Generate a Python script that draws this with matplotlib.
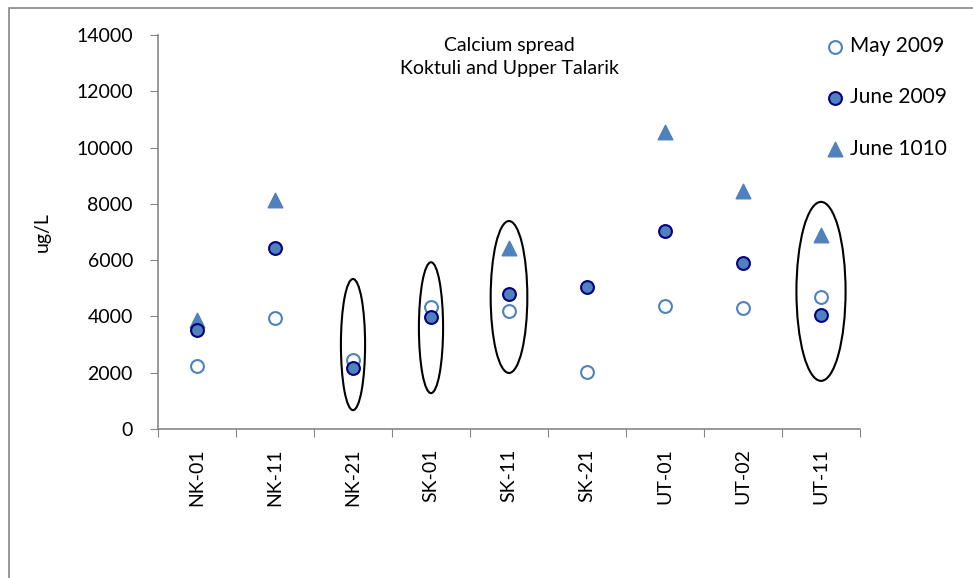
import matplotlib.pyplot as plt
from matplotlib.patches import Ellipse, Rectangle

plt.rcParams['font.family'] = ['Lato', 'DejaVu Sans']

sites = ['NK-01', 'NK-11', 'NK-21', 'SK-01', 'SK-11', 'SK-21', 'UT-01', 'UT-02', 'UT-11']
may_2009 = [2240, 3940, 2450, 4340, 4190, 2030, 4370, 4300, 4690]
june_2009 = [3520, 6430, 2170, 3980, 4800, 5040, 7040, 5900, 4050]
# no June 1010 sample at NK-21, SK-01, SK-21
june_1010 = [3870, 8140, None, None, 6430, None, 10550, 8460, 6890]

# circled sites: (site index, centre, height in ug/L, width in categories)
circled = [(2, 3000, 4660, 0.31), (3, 3600, 4650, 0.31),
           (4, 4690, 5400, 0.47), (8, 4890, 6360, 0.63)]

fig = plt.figure(figsize=(9.73, 5.78), dpi=100)
ax = fig.add_axes([158 / 973, 1 - 429 / 578, (860 - 158) / 973, (429 - 35) / 578])

blue = '#4F81BD'
x = list(range(len(sites)))

ax.scatter(x, may_2009, s=85, facecolors='white', edgecolors=blue, linewidths=1.5,
           label='May 2009', zorder=3)
ax.scatter(x, june_2009, s=85, facecolors=blue, edgecolors='#000080', linewidths=1.5,
           label='June 2009', zorder=4)
tx = [i for i, v in zip(x, june_1010) if v is not None]
ty = [v for v in june_1010 if v is not None]
ax.scatter(tx, ty, s=110, marker='^', color=blue, label='June 1010', zorder=3)

for i, c, h, w in circled:
    ax.add_patch(Ellipse((i, c), w, h, fill=False, edgecolor='black', linewidth=1.5, zorder=5))

ax.set_xlim(-0.5, len(sites) - 0.5)
ax.set_ylim(0, 14000)
ax.set_yticks(range(0, 14001, 2000))
ax.set_xticks([i - 0.5 for i in range(len(sites) + 1)], minor=False)
ax.set_xticklabels([])
ax.set_xticks(x, minor=True)
ax.set_xticklabels(sites, minor=True, rotation=90, fontsize=14)
ax.tick_params(axis='x', which='minor', length=0, pad=14)
ax.tick_params(axis='x', which='major', length=6, color='#868686', direction='out')
ax.tick_params(axis='y', length=6, color='#868686', labelsize=14, pad=12)

for side in ['top', 'right']:
    ax.spines[side].set_visible(False)
for side in ['left', 'bottom']:
    ax.spines[side].set_color('#868686')
    ax.spines[side].set_linewidth(1.2)

ax.set_ylabel('ug/L', fontsize=14, labelpad=18)
ax.text(0.5, 0.995, 'Calcium spread\nKoktuli and Upper Talarik', transform=ax.transAxes,
        ha='center', va='top', fontsize=14, linespacing=1.4)

ax.legend(loc='upper left', bbox_to_anchor=(0.915, 1.045), frameon=False, fontsize=15,
          labelspacing=1.5, handletextpad=0.0, handlelength=1.5)

fig.patches.append(Rectangle((9 / 973, -0.01), 1.0, 1 - 8 / 578 + 0.01, transform=fig.transFigure,
                             fill=False, edgecolor='#868686', linewidth=1.2))

fig.savefig('out.png')
